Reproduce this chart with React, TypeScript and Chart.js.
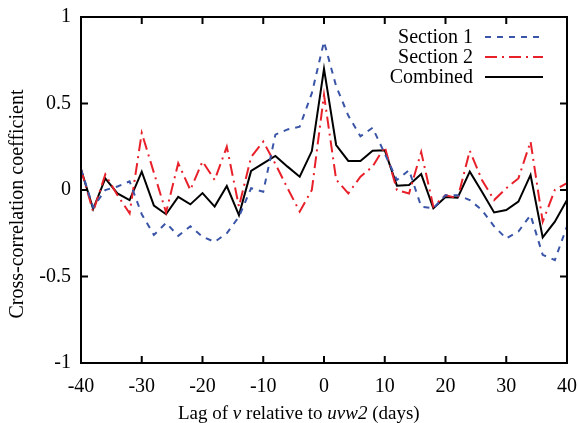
import React, { useEffect, useRef } from "react";
import { Chart, registerables } from "chart.js";

Chart.register(...registerables);

const lags = [
  -40, -38, -36, -34, -32, -30, -28, -26, -24, -22, -20, -18, -16, -14, -12, -10, -8, -6, -4, -2,
  0, 2, 4, 6, 8, 10, 12, 14, 16, 18, 20, 22, 24, 26, 28, 30, 32, 34, 36, 38, 40,
];

const section1 = [
  0.12, -0.1, 0.0, 0.02, 0.05, -0.14, -0.26, -0.19, -0.265, -0.21, -0.27, -0.3, -0.25, -0.155, 0.01, -0.01, 0.32, 0.35, 0.366, 0.56,
  0.857, 0.6, 0.43, 0.31, 0.36, 0.21, 0.058, 0.115, -0.096, -0.106, -0.03, -0.03, -0.058, -0.116, -0.21, -0.28, -0.24, -0.145, -0.375, -0.405, -0.21,
];

const section2 = [
  0.12, -0.125, 0.09, -0.03, -0.135, 0.33, 0.1, -0.13, 0.155, 0.0, 0.165, 0.058, 0.25, -0.096, 0.19, 0.28, 0.15, 0.01, -0.125, 0.0,
  0.55, 0.06, -0.02, 0.077, 0.135, 0.25, 0.0, -0.02, 0.22, -0.096, -0.03, -0.048, 0.227, 0.058, -0.058, 0.01, 0.067, 0.28, -0.183, 0.0, 0.04,
];

const combined = [
  0.12, -0.11, 0.067, -0.02, -0.058, 0.106, -0.09, -0.14, -0.04, -0.083, -0.018, -0.096, 0.023, -0.145, 0.11, 0.154, 0.197, 0.135, 0.077, 0.225,
  0.7, 0.26, 0.168, 0.168, 0.227, 0.23, 0.025, 0.029, 0.092, -0.106, -0.04, -0.044, 0.106, -0.01, -0.13, -0.116, -0.067, 0.087, -0.274, -0.183, -0.058,
];

const seriesNames = ["Section 1", "Section 2", "Combined"];
const xTicks = [-40, -30, -20, -10, 0, 10, 20, 30, 40];
const yTicks = [-1, -0.5, 0, 0.5, 1];
const yTitle = "Cross-correlation coefficient";

const SERIF = "'Liberation Serif', 'DejaVu Serif', serif";

const framePlugin = {
  id: "gnuplotFrame",
  afterDraw(chart: any) {
    const { ctx, chartArea } = chart;
    const { left, right, top, bottom } = chartArea;
    const xs = chart.scales.x;
    const ys = chart.scales.y;
    ctx.save();
    ctx.strokeStyle = "#000";
    ctx.lineWidth = 2;
    ctx.beginPath();
    const tl = 7;
    xTicks.forEach((v) => {
      const px = xs.getPixelForValue(v);
      ctx.moveTo(px, bottom);
      ctx.lineTo(px, bottom - tl);
      ctx.moveTo(px, top);
      ctx.lineTo(px, top + tl);
    });
    yTicks.forEach((v) => {
      const py = ys.getPixelForValue(v);
      ctx.moveTo(left, py);
      ctx.lineTo(left + tl, py);
      ctx.moveTo(right, py);
      ctx.lineTo(right - tl, py);
    });
    ctx.stroke();
    ctx.strokeRect(left, top, right - left, bottom - top);

    // legend
    ctx.font = `20px ${SERIF}`;
    ctx.fillStyle = "#000";
    ctx.textAlign = "right";
    ctx.textBaseline = "middle";
    const rows = [37, 57, 77];
    chart.data.datasets.forEach((ds: any, i: number) => {
      const y = rows[i];
      ctx.fillText(seriesNames[i], 473, y + 1);
      ctx.save();
      ctx.strokeStyle = ds.borderColor;
      ctx.lineWidth = 2;
      ctx.setLineDash(ds.borderDash || []);
      ctx.beginPath();
      ctx.moveTo(485, y);
      ctx.lineTo(543, y);
      ctx.stroke();
      ctx.restore();
    });

    // y-axis title
    ctx.save();
    ctx.translate(18, 204);
    ctx.rotate(-Math.PI / 2);
    ctx.font = `20px ${SERIF}`;
    ctx.textAlign = "center";
    ctx.textBaseline = "middle";
    ctx.fillText(yTitle, 0, 0);
    ctx.restore();

    // x-axis title with italic parts
    const parts: [string, boolean][] = [
      ["Lag of ", false],
      ["v", true],
      [" relative to ", false],
      ["uvw2", true],
      [" (days)", false],
    ];
    const fs = 19;
    let x = 178;
    ctx.textAlign = "left";
    ctx.textBaseline = "alphabetic";
    parts.forEach(([t, it]) => {
      ctx.font = `${it ? "italic " : ""}${fs}px ${SERIF}`;
      ctx.fillText(t, x, 419);
      x += ctx.measureText(t).width;
    });
    ctx.restore();
  },
};

export default function App() {
  const ref = useRef<HTMLCanvasElement | null>(null);
  useEffect(() => {
    if (!ref.current) return;
    const mk = (arr: number[]) => lags.map((x, i) => ({ x, y: arr[i] }));
    const chart = new Chart(ref.current, {
      type: "line",
      data: {
        datasets: [
          {
            label: seriesNames[0],
            data: mk(section1),
            borderColor: "#3a55a8",
            borderWidth: 2,
            borderDash: [6, 6],
            pointRadius: 0,
            fill: false,
            tension: 0,
          },
          {
            label: seriesNames[1],
            data: mk(section2),
            borderColor: "#e8202a",
            borderWidth: 2,
            borderDash: [12, 5, 2, 5],
            pointRadius: 0,
            fill: false,
            tension: 0,
          },
          {
            label: seriesNames[2],
            data: mk(combined),
            borderColor: "#000000",
            borderWidth: 2,
            pointRadius: 0,
            fill: false,
            tension: 0,
          },
        ],
      },
      options: {
        animation: false,
        responsive: false,
        maintainAspectRatio: false,
        layout: { padding: { top: 17, right: 11, bottom: 0, left: 0 } },
        plugins: {
          legend: { display: false },
          tooltip: { enabled: false },
        },
        scales: {
          x: {
            type: "linear",
            min: -40,
            max: 40,
            afterBuildTicks: (s: any) => {
              s.ticks = xTicks.map((v) => ({ value: v }));
            },
            afterFit: (s: any) => {
              s.height = 60;
              s.paddingLeft = 0;
              s.paddingRight = 0;
            },
            grid: { display: false, drawTicks: false },
            border: { display: false },
            ticks: {
              color: "#000",
              padding: 12,
              font: { family: SERIF, size: 20 },
              maxRotation: 0,
              callback: (v: any) => String(v),
            },
          },
          y: {
            type: "linear",
            min: -1,
            max: 1,
            afterBuildTicks: (s: any) => {
              s.ticks = yTicks.map((v) => ({ value: v }));
            },
            afterFit: (s: any) => {
              s.width = 81;
              s.paddingTop = 0;
              s.paddingBottom = 0;
            },
            grid: { display: false, drawTicks: false },
            border: { display: false },
            ticks: {
              color: "#000",
              padding: 10,
              font: { family: SERIF, size: 20 },
              callback: (v: any) => String(v),
            },
          },
        },
      },
      plugins: [framePlugin],
    });
    return () => chart.destroy();
  }, []);
  return (
    <div style={{ position: "fixed", left: 0, top: 0, width: 578, height: 423, background: "#fff" }}>
      <canvas ref={ref} width={578} height={423} style={{ display: "block" }} />
    </div>
  );
}
